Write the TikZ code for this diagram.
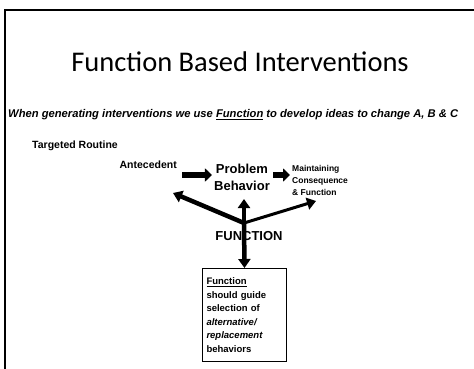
\documentclass[tikz,border=0pt]{standalone}
\usepackage{fontspec}
\setmainfont{Liberation Sans}
\newfontfamily\titlefont{Carlito}
\usetikzlibrary{arrows.meta,positioning}

\tikzset{
  blockarrow/.style={line width=5.5pt,-{Triangle[length=7pt,width=13pt]}},
  forkarrow/.style={line width=4.5pt,-{Triangle[length=9pt,width=12pt]}},
  lbl/.style={font=\bfseries\fontsize{10.5}{12}\selectfont,inner sep=0pt},
}

\begin{document}
\begin{tikzpicture}[x=1pt,y=-1pt]
  \useasboundingbox (0,0) rectangle (474,369);
  % slide frame
  \draw[line width=1.5pt] (5,369) -- (5,10) -- (474,10);

  \node (title) at (240,62) {\titlefont\fontsize{28.5}{32}\selectfont Function Based Interventions};
  \node[anchor=west,inner sep=0pt] (sub) at (8,115)
    {\fontsize{11.2}{13}\selectfont\bfseries\itshape When generating interventions we use \underline{Function} to develop ideas to change A, B \& C};

  \node[lbl,anchor=west] (routine) at (32,146) {Targeted Routine};
  \node[lbl,anchor=east] (ante) at (177,165) {Antecedent};
  \node[align=center,inner sep=2pt,font=\bfseries\fontsize{13}{17}\selectfont] (prob) at (242,177) {Problem\\Behavior};
  \node[anchor=west,align=left,inner sep=0pt,font=\bfseries\fontsize{8.5}{12}\selectfont] (cons) at (292,180)
    {Maintaining\\Consequence\\\& Function};

  % arrows of the routine
  \coordinate (a1) at (182,175);
  \draw[blockarrow] (a1) -- (prob.west |- a1);
  \draw[blockarrow] ([xshift=1pt]prob.east |- a1) -- ([xshift=-2pt]cons.west |- a1);

  \node[font=\bfseries\fontsize{13}{15}\selectfont] (func) at (249,236) {FUNCTION};
  \node[draw,line width=1pt,anchor=north west,text width=76pt,minimum height=93pt,
    inner sep=4pt,align=left,font=\bfseries\fontsize{9.5}{13.5}\selectfont] (fn) at (202,268)
    {\underline{Function}\\should guide\\selection of\\\textit{alternative/}\\\textit{replacement}\\behaviors};

  % the fork
  \coordinate (fork) at (244,223);
  \coordinate (lt) at (173,193);
  \coordinate (rt) at (316,201);
  \coordinate (up) at (244,199);
  \draw[forkarrow] (fork) -- (lt);
  \draw[forkarrow,line width=3pt] (fork) -- (rt);
  \draw[forkarrow] (fork) -- (up);
  \draw[forkarrow] (fork) -- (fn.north);
\end{tikzpicture}
\end{document}
